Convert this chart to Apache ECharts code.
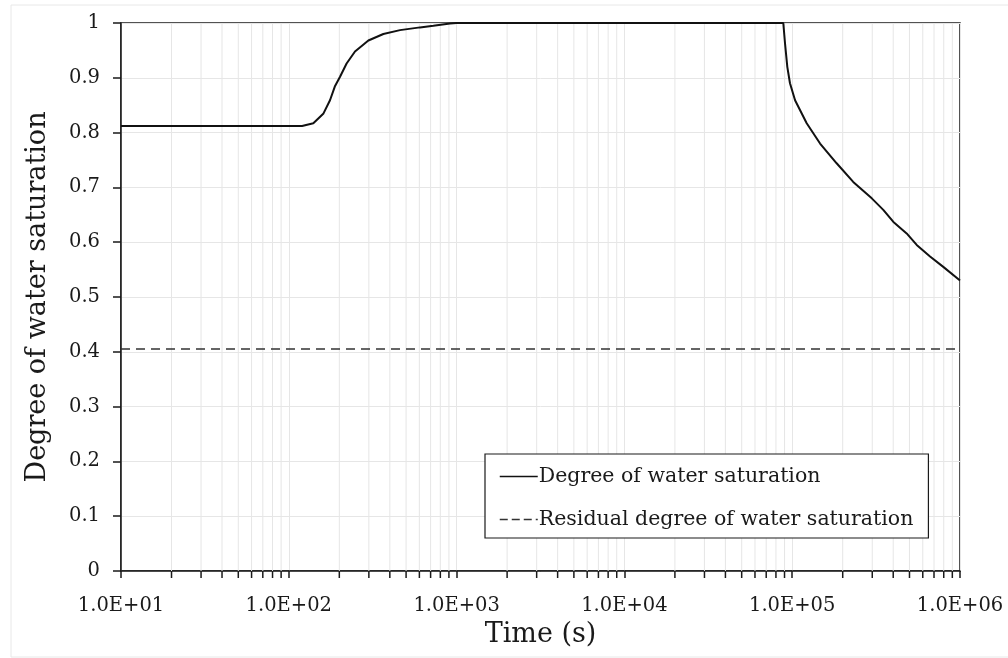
<!DOCTYPE html>
<html>
<head>
<meta charset="utf-8">
<script src="https://cdn.jsdelivr.net/npm/echarts@6/dist/echarts.min.js"></script>
<style>
  html, body { margin: 0; padding: 0; background: #ffffff; }
  #chart { width: 1008px; height: 658px; }
</style>
</head>
<body>
<div id="chart"></div>
<script>
// Time (s) and degree of water saturation along the simulated history
const timeSec = [10, 120, 140, 161, 176, 188, 202, 221, 248, 298, 366, 460, 605, 727, 914, 1000,
  88500, 90600, 93500, 97000, 104000, 122000, 146600, 184000, 231000, 298000, 349000,
  401000, 481000, 552000, 663000, 795000, 1000000];
const saturation = [0.812, 0.812, 0.817, 0.835, 0.859, 0.884, 0.902, 0.926, 0.948, 0.968, 0.980,
  0.987, 0.992, 0.995, 0.999, 1.0, 1.0, 0.963, 0.920, 0.890, 0.859, 0.817, 0.780, 0.744, 0.710,
  0.680, 0.659, 0.637, 0.616, 0.595, 0.574, 0.555, 0.530];

// Residual degree of water saturation (constant)
const residualTime = [10, 1000000];
const residualValue = [0.405, 0.405];

// Log-axis minor positions (2..9 in each decade)
const minorTicks = [];
for (let d = 10; d < 1000000; d *= 10) {
  for (let k = 2; k <= 9; k++) minorTicks.push(k * d);
}

const seriesNames = ['Degree of water saturation', 'Residual degree of water saturation'];
const FONT = 'DejaVu Serif';
const INK = '#1a1a1a';
const GRID = '#e6e6e6';

const chart = echarts.init(document.getElementById('chart'), null, { renderer: 'canvas' });

chart.setOption({
  backgroundColor: '#ffffff',
  animation: false,
  graphic: [{
    type: 'rect',
    shape: { x: 11, y: 5, width: 1010, height: 652 },
    style: { fill: 'none', stroke: '#e8e8e8', lineWidth: 1 },
    silent: true,
    z: -10
  }],
  grid: {
    left: 121, right: 48, top: 23, bottom: 87,
    show: true, borderColor: INK, borderWidth: 1.5, backgroundColor: 'transparent'
  },
  legend: {
    orient: 'vertical',
    left: 485, top: 454,
    data: [
      { name: seriesNames[0], itemStyle: { opacity: 0 }, lineStyle: { type: 'solid', width: 1.5 } },
      { name: seriesNames[1], itemStyle: { opacity: 0 }, lineStyle: { type: [8, 4], width: 1.5 } }
    ],
    backgroundColor: '#ffffff',
    borderColor: INK, borderWidth: 1.2, borderRadius: 0,
    padding: [12, 15, 8, 14],
    itemGap: 22,
    itemWidth: 38, itemHeight: 14,
    textStyle: { fontFamily: FONT, fontSize: 20.5, color: INK, padding: [0, 0, 0, -4] },
    z: 10
  },
  xAxis: {
    type: 'log', logBase: 10, min: 10, max: 1000000,
    name: 'Time (s)', nameLocation: 'middle', nameGap: 50,
    nameTextStyle: { fontFamily: FONT, fontSize: 27, color: INK },
    axisLine: { lineStyle: { color: INK, width: 1.5 } },
    axisTick: { show: true, inside: false, length: 7, lineStyle: { color: INK, width: 1.5 } },
    axisLabel: {
      fontFamily: FONT, fontSize: 19.5, color: INK, margin: 25,
      formatter: function (v) {
        const e = Math.round(Math.log10(v));
        return '1.0E+' + String(e).padStart(2, '0');
      }
    },
    splitLine: { show: true, lineStyle: { color: GRID, width: 1 } }
  },
  yAxis: {
    type: 'value', min: 0, max: 1, interval: 0.1,
    name: 'Degree of water saturation', nameLocation: 'middle', nameGap: 70,
    nameTextStyle: { fontFamily: FONT, fontSize: 27, color: INK },
    axisLine: { show: true, lineStyle: { color: INK, width: 1.5 } },
    axisTick: { show: true, inside: false, length: 8, lineStyle: { color: INK, width: 1.5 } },
    axisLabel: {
      fontFamily: FONT, fontSize: 19.5, color: INK, margin: 21,
      formatter: function (v) { return String(Math.round(v * 10) / 10); }
    },
    splitLine: { show: true, lineStyle: { color: GRID, width: 1 } }
  },
  series: [
    {
      // minor grid lines and minor tick marks of the log time axis
      type: 'custom',
      silent: true,
      clip: false,
      z: 1,
      data: minorTicks.map(v => [v]),
      encode: { x: 0 },
      renderItem: function (params, api) {
        const x = api.value(0);
        const top = api.coord([x, 1]);
        const bot = api.coord([x, 0]);
        return {
          type: 'group',
          children: [
            {
              type: 'line',
              shape: { x1: bot[0], y1: bot[1], x2: top[0], y2: top[1] },
              style: { stroke: GRID, lineWidth: 1 }
            },
            {
              type: 'line',
              shape: { x1: bot[0], y1: bot[1], x2: bot[0], y2: bot[1] + 7 },
              style: { stroke: INK, lineWidth: 1.5 }
            }
          ]
        };
      }
    },
    {
      name: seriesNames[0],
      type: 'line',
      symbol: 'none',
      z: 5,
      lineStyle: { color: '#111', width: 2 },
      itemStyle: { color: '#111' },
      data: timeSec.map((t, i) => [t, saturation[i]])
    },
    {
      name: seriesNames[1],
      type: 'line',
      symbol: 'none',
      z: 4,
      lineStyle: { color: '#333', width: 1.6, type: [9, 6] },
      itemStyle: { color: '#333' },
      data: residualTime.map((t, i) => [t, residualValue[i]])
    }
  ]
});
</script>
</body>
</html>
